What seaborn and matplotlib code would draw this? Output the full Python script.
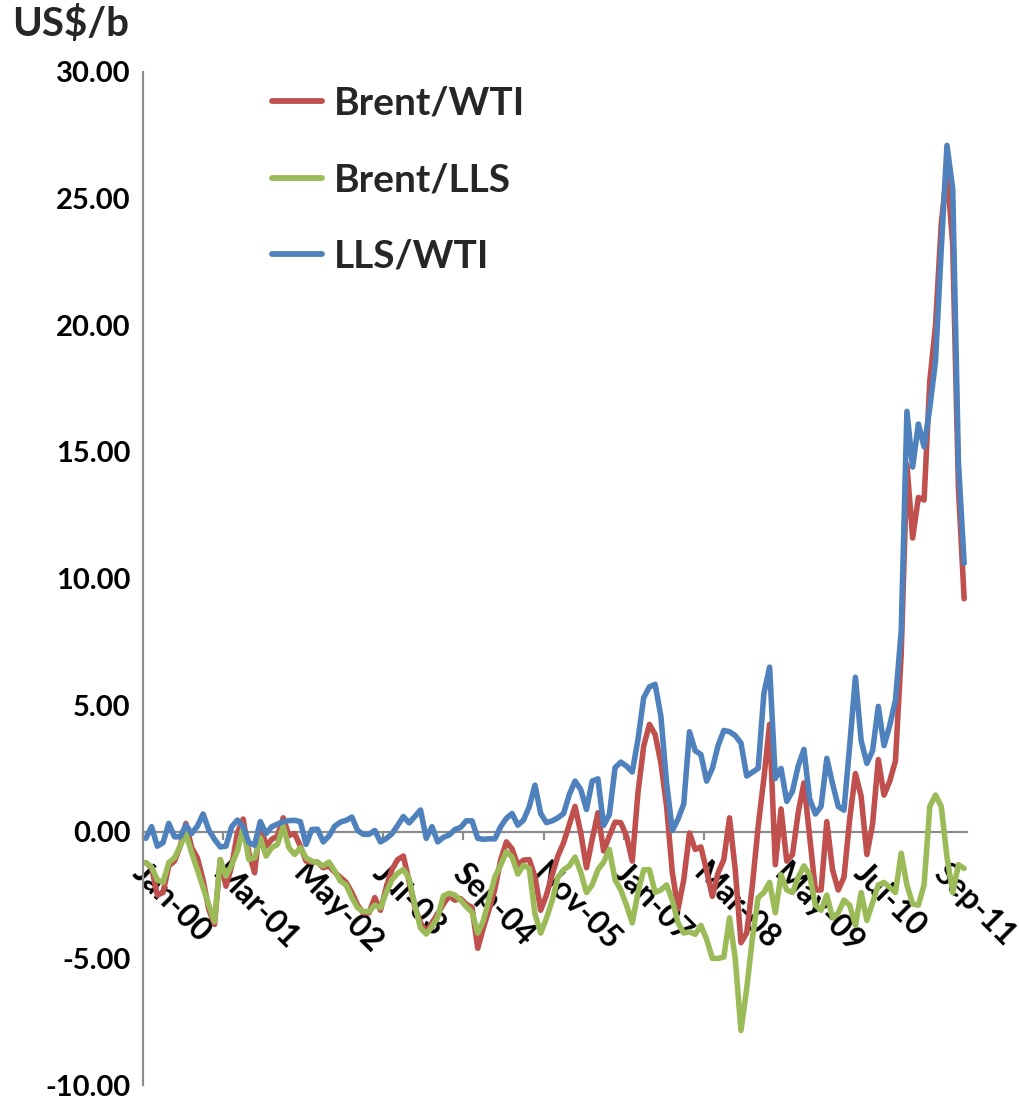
import numpy as np
import pandas as pd
import matplotlib
matplotlib.use("Agg")
import matplotlib.pyplot as plt
import seaborn as sns

# ---- data (monthly, Jan-2000 .. Dec-2011) ----
brent_wti = [
    -1.22, -1.42, -2.5, -2.4, -1.35, -1.16, -0.57, 0.33, -0.63, -1.03,
    -1.9, -3.07, -3.66, -1.1, -2.15, -1.36, -0.04, 0.5, -0.83, -1.62,
    0.35, -0.57, -0.3, -0.17, 0.55, -0.15, -0.07, -0.57, -1.16, -1.2,
    -1.2, -1.42, -1.35, -1.6, -1.8, -2.0, -2.4, -2.9, -3.2, -3.2,
    -2.6, -3.1, -2.2, -1.5, -1.1, -0.96, -1.97, -2.96, -3.6, -3.95,
    -3.6, -3.25, -2.85, -2.54, -2.7, -2.64, -2.86, -2.99, -4.6, -3.78,
    -3.05, -2.26, -1.12, -0.4, -0.68, -1.32, -1.12, -1.1, -1.78, -3.1,
    -2.5, -1.7, -0.96, -0.43, 0.29, 1.0, -0.04, -1.42, -0.3, 0.75,
    -0.76, -0.17, 0.38, 0.36, -0.17, -1.16, 1.54, 3.38, 4.24, 3.84,
    2.72, 1.01, -1.6, -3.05, -1.9, -0.05, -0.7, -0.6, -1.55, -2.55,
    -1.62, -1.1, 0.55, -1.5, -4.38, -4.0, -2.1, 0.2, 2.1, 4.24,
    -1.3, 0.9, -1.16, -0.9, 0.75, 1.93, -0.2, -2.3, -2.3, 0.4,
    -1.5, -2.3, -1.8, 0.5, 2.3, 1.4, -0.9, 0.3, 2.85, 1.45,
    2.0, 2.8, 7.0, 14.5, 11.6, 13.2, 13.1, 17.8, 20.0, 24.0,
    26.1, 23.2, 13.6, 9.2,
]
brent_lls = [
    -1.22, -1.4, -1.9, -2.0, -1.22, -1.03, -0.57, -0.07, -0.83, -1.5,
    -2.2, -2.9, -3.55, -1.1, -1.75, -1.3, -0.76, 0.16, -1.1, -1.03,
    -0.24, -0.96, -0.63, -0.5, 0.22, -0.63, -0.9, -0.63, -1.03, -1.16,
    -1.22, -1.35, -1.2, -1.55, -1.95, -2.1, -2.6, -3.0, -3.15, -3.15,
    -2.9, -3.0, -2.4, -1.9, -1.64, -1.49, -1.84, -2.9, -3.8, -4.04,
    -3.75, -3.38, -2.53, -2.43, -2.5, -2.7, -2.96, -3.18, -4.0, -3.5,
    -2.63, -1.78, -1.32, -0.79, -1.0, -1.67, -1.32, -1.45, -3.25, -4.0,
    -3.42, -2.72, -1.8, -1.5, -1.35, -1.0, -1.6, -2.4, -2.1, -1.5,
    -1.2, -0.7, -1.9, -2.3, -2.9, -3.6, -2.4, -1.5, -1.5, -2.4,
    -2.3, -2.1, -2.7, -3.6, -4.0, -3.95, -4.05, -3.7, -4.25, -5.0,
    -5.0, -4.95, -3.4, -5.0, -7.85, -6.2, -4.2, -2.6, -2.4, -2.0,
    -3.2, -1.7, -2.3, -2.4, -1.8, -1.35, -1.7, -2.9, -3.1, -2.5,
    -3.4, -3.2, -2.7, -2.9, -3.7, -2.4, -3.5, -2.8, -2.1, -2.0,
    -2.2, -2.4, -0.85, -2.1, -2.85, -2.9, -2.1, 1.0, 1.45, 1.0,
    -1.0, -2.4, -1.3, -1.45,
]
lls_wti = [
    -0.26, 0.2, -0.57, -0.43, 0.33, -0.2, -0.2, 0.26, -0.07, 0.22,
    0.7, 0.07, -0.3, -0.6, -0.57, 0.2, 0.46, 0.2, -0.43, -0.53,
    0.4, -0.07, 0.2, 0.3, 0.4, 0.44, 0.45, 0.4, -0.5, 0.09,
    0.1, -0.4, -0.17, 0.22, 0.38, 0.45, 0.58, 0.05, -0.1, -0.1,
    0.05, -0.4, -0.27, -0.08, 0.25, 0.6, 0.35, 0.6, 0.86, -0.26,
    0.2, -0.4, -0.22, -0.13, 0.09, 0.17, 0.43, 0.43, -0.26, -0.3,
    -0.28, -0.28, 0.2, 0.53, 0.72, 0.26, 0.46, 0.99, 1.84, 0.72,
    0.36, 0.43, 0.55, 0.72, 1.47, 2.0, 1.67, 0.88, 2.0, 2.09,
    0.25, 0.68, 2.53, 2.75, 2.59, 2.36, 3.64, 5.29, 5.72, 5.82,
    4.57, 1.93, 0.05, 0.5, 1.1, 3.95, 3.2, 3.05, 2.0, 2.5,
    3.4, 4.0, 3.95, 3.8, 3.5, 2.2, 2.35, 2.5, 5.45, 6.5,
    2.1, 2.5, 1.2, 1.6, 2.6, 3.25, 1.3, 0.7, 1.0, 2.9,
    1.9, 1.0, 0.85, 3.4, 6.1, 3.6, 2.7, 3.2, 4.95, 3.4,
    4.2, 5.2, 7.9, 16.6, 14.4, 16.1, 15.2, 16.75, 18.6, 23.0,
    27.1, 25.4, 14.6, 10.6,
]
series_names = ["Brent/WTI", "Brent/LLS", "LLS/WTI"]
tick_labels = ["Jan-00", "Mar-01", "May-02", "Jul-03", "Sep-04", "Nov-05",
               "Jan-07", "Mar-08", "May-09", "Jul-10", "Sep-11"]
y_ticks = [-10, -5, 0, 5, 10, 15, 20, 25, 30]

colors = ["#C0504D", "#9BBB59", "#4F81BD"]
n = len(brent_wti)
idx = np.arange(n)
df = pd.concat([
    pd.DataFrame({"idx": idx, "value": vals, "series": name})
    for name, vals in zip(series_names, [brent_wti, brent_lls, lls_wti])
], ignore_index=True)

sns.set_theme(style="white")
plt.rcParams["font.family"] = ["Lato", "DejaVu Sans"]
plt.rcParams["font.weight"] = "bold"

fig = plt.figure(figsize=(10.19, 11.0), dpi=100)
ax = fig.add_axes([143 / 1019, 1 - 1085 / 1100, (967 - 143) / 1019, (1085 - 72) / 1100])

sns.lineplot(data=df, x="idx", y="value", hue="series", hue_order=series_names,
             palette=colors, linewidth=4.0, ax=ax, legend=True)
for ln in ax.lines:
    ln.set_solid_joinstyle("round")
    ln.set_solid_capstyle("round")

ax.set_xlim(-0.5, n - 0.5)
ax.set_ylim(-10, 30)
ax.set_xlabel("")
ax.set_ylabel("")

gray = "#8C8C8C"
for s in ["top", "right"]:
    ax.spines[s].set_visible(False)
ax.spines["left"].set_color(gray)
ax.spines["left"].set_linewidth(1.6)
ax.spines["bottom"].set_position(("data", 0))
ax.spines["bottom"].set_color(gray)
ax.spines["bottom"].set_linewidth(1.6)
ax.spines["bottom"].set_zorder(1)

ax.set_yticks(y_ticks)
ax.set_yticklabels([f"{v:.2f}" for v in y_ticks])
ax.tick_params(axis="y", direction="out", length=7, width=1.6, color=gray,
               pad=2, labelsize=21, labelcolor="black")
for t in ax.get_yticklabels():
    t.set_fontweight("bold")

step = 14
ax.set_xticks(np.arange(-0.5, n, step))
ax.set_xticklabels([])
ax.tick_params(axis="x", which="major", direction="out", length=6, width=1.6,
               color=gray, bottom=True)
ax.set_xticks(np.arange(0, n, step) + 0.3, minor=True)
ax.set_xticklabels(tick_labels, minor=True)
ax.tick_params(axis="x", which="minor", length=0, pad=19, labelsize=23,
               labelcolor="black")
for t in ax.get_xticklabels(minor=True):
    t.set_rotation(-45)
    t.set_ha("left")
    t.set_va("top")
    t.set_rotation_mode("anchor")
    t.set_fontweight("bold")
    t.set_zorder(5)

sns.move_legend(ax, loc="upper left", bbox_to_anchor=(272 / 1019, 1 - 86 / 1100),
                bbox_transform=fig.transFigure, title=None, frameon=False,
                fontsize=28, handlelength=1.28, handletextpad=0.3,
                labelspacing=1.06, borderpad=0, borderaxespad=0)
leg = ax.get_legend()
for t in leg.get_texts():
    t.set_fontweight("bold")
for h in leg.get_lines():
    h.set_linewidth(4.2)

fig.text(12 / 1019, 1 - 5 / 1100, "US$/b", ha="left", va="top",
         fontsize=29, fontweight="bold")

fig.savefig("out.png", dpi=100)
